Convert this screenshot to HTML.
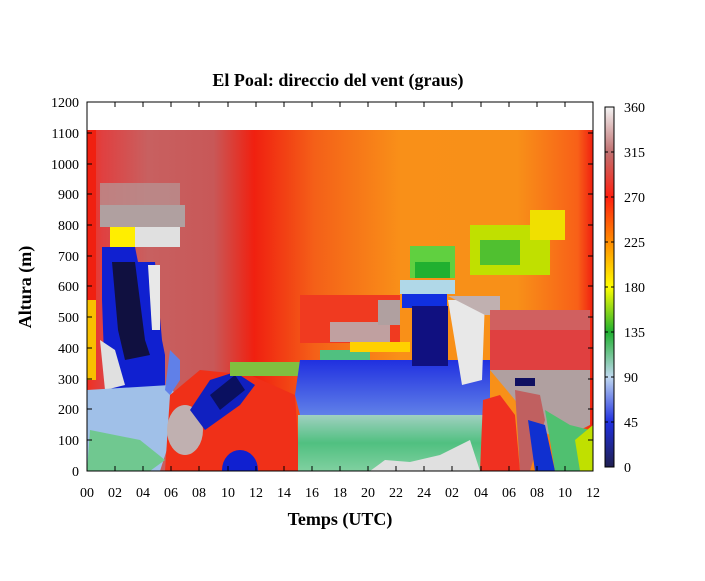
<!DOCTYPE html>
<html><head><style>
body{margin:0;background:#fff;width:705px;height:576px;overflow:hidden}
text{font-family:"Liberation Serif",serif;fill:#000}
</style></head><body>
<svg width="705" height="576" viewBox="0 0 705 576" xmlns="http://www.w3.org/2000/svg">
<defs>
<clipPath id="pc"><rect x="87" y="130" width="506" height="341"/></clipPath>
<linearGradient id="top" x1="0" x2="1" y1="0" y2="0">
<stop offset="0" stop-color="#f03020"/>
<stop offset="0.03" stop-color="#e04040"/>
<stop offset="0.12" stop-color="#c86060"/>
<stop offset="0.25" stop-color="#c85858"/>
<stop offset="0.33" stop-color="#f02010"/>
<stop offset="0.45" stop-color="#f46018"/>
<stop offset="0.62" stop-color="#f99018"/>
<stop offset="0.85" stop-color="#f89018"/>
<stop offset="0.97" stop-color="#f86018"/>
<stop offset="1" stop-color="#f02010"/>
</linearGradient>
<linearGradient id="cb" x1="0" x2="0" y1="1" y2="0">
<stop offset="0" stop-color="#202050"/>
<stop offset="0.125" stop-color="#2030e0"/>
<stop offset="0.25" stop-color="#c0d8f0"/>
<stop offset="0.375" stop-color="#20b030"/>
<stop offset="0.5" stop-color="#ffff00"/>
<stop offset="0.625" stop-color="#ff8c00"/>
<stop offset="0.75" stop-color="#ff2010"/>
<stop offset="0.875" stop-color="#c07070"/>
<stop offset="1" stop-color="#f4f4f4"/>
</linearGradient>
<linearGradient id="gr" x1="0" x2="0" y1="0" y2="1">
<stop offset="0" stop-color="#a0d0c0"/><stop offset="0.5" stop-color="#50c080"/><stop offset="1" stop-color="#80d0a0"/>
</linearGradient>
<linearGradient id="bl" x1="0" x2="0" y1="0" y2="1">
<stop offset="0" stop-color="#2030e0"/><stop offset="1" stop-color="#6080e8"/>
</linearGradient>
</defs>
<text x="338" y="86" font-size="18" font-weight="bold" text-anchor="middle">El Poal: direccio del vent (graus)</text>
<g clip-path="url(#pc)">
<rect x="87" y="130" width="506" height="341" fill="url(#top)"/>
<rect x="100" y="183" width="80" height="22" fill="#b89090" opacity="0.8"/>
<rect x="100" y="205" width="85" height="22" fill="#b0a0a0"/>
<rect x="110" y="227" width="70" height="20" fill="#e0e0e0"/>
<rect x="110" y="227" width="25" height="20" fill="#ffee00"/>
<rect x="300" y="295" width="100" height="48" fill="#f03a20"/>
<rect x="330" y="322" width="60" height="20" fill="#c0a0a0"/>
<polygon points="102,247 135,247 138,262 155,262 162,340 165,355 165,395 115,395 105,385 102,300" fill="#1020d0"/>
<polygon points="112,262 135,262 145,340 150,355 125,360 118,330" fill="#101040"/>
<polygon points="148,265 160,265 160,330 152,330" fill="#e8e8e8"/>
<polygon points="100,340 115,350 125,385 105,390" fill="#e0e0e0"/>
<polygon points="87,390 170,385 178,400 170,440 160,471 87,471" fill="#a0c0e8"/>
<polygon points="90,430 140,440 165,460 150,471 87,471" fill="#70c890"/>
<polygon points="170,350 180,360 180,380 170,395 165,390" fill="#6080e8"/>
<polygon points="170,395 200,370 250,375 295,395 300,471 165,471" fill="#f03018"/>
<ellipse cx="185" cy="430" rx="18" ry="25" fill="#c0b0b0"/>
<polygon points="190,410 210,380 235,372 255,385 240,405 205,430" fill="#1020c0"/>
<polygon points="210,395 235,375 245,390 220,410" fill="#0a1060"/>
<rect x="230" y="362" width="70" height="14" fill="#80c040"/>
<ellipse cx="240" cy="470" rx="18" ry="20" fill="#1020d0"/>
<polygon points="300,360 490,360 490,415 300,415 295,395" fill="url(#bl)"/>
<rect x="298" y="415" width="185" height="56" fill="url(#gr)"/>
<polygon points="370,471 385,460 410,462 440,455 470,440 480,471" fill="#e0e0e0"/>
<rect x="320" y="350" width="50" height="10" fill="#50c080"/>
<rect x="350" y="342" width="60" height="10" fill="#ffd000"/>
<rect x="400" y="280" width="55" height="14" fill="#b0d8e8"/>
<rect x="402" y="294" width="45" height="14" fill="#1030e0"/>
<rect x="412" y="306" width="36" height="60" fill="#101080"/>
<polygon points="448,300 485,300 482,380 462,385" fill="#e8e8e8"/>
<polygon points="448,296 500,296 500,315 485,315" fill="#c0b0b0"/>
<rect x="378" y="300" width="22" height="25" fill="#b0a0a0"/>
<rect x="410" y="246" width="45" height="32" fill="#60d040"/>
<rect x="415" y="262" width="35" height="16" fill="#20b030"/>
<rect x="470" y="225" width="80" height="50" fill="#c0e000"/>
<rect x="480" y="240" width="40" height="25" fill="#50c030"/>
<rect x="530" y="210" width="35" height="30" fill="#f0e000"/>
<rect x="490" y="310" width="100" height="50" fill="#d06060"/>
<rect x="490" y="330" width="100" height="40" fill="#e04040"/>
<polygon points="490,370 590,370 590,425 560,440 540,430" fill="#b0a0a0"/>
<polygon points="483,400 500,395 515,415 520,471 480,471" fill="#f03020"/>
<polygon points="515,390 540,395 545,420 530,471 520,471" fill="#c06060"/>
<polygon points="528,420 545,425 555,471 535,471" fill="#1030d0"/>
<polygon points="545,410 570,425 590,430 593,471 555,471" fill="#50c070"/>
<polygon points="575,440 593,425 593,471 580,471" fill="#c0e000"/>
<rect x="515" y="378" width="20" height="8" fill="#101060"/>
<rect x="87" y="130" width="9" height="250" fill="#f02010"/>
<rect x="87" y="300" width="9" height="80" fill="#f8c000"/>
</g>
<rect x="87" y="102" width="506" height="369" fill="none" stroke="#000" stroke-width="1"/>
<g stroke="#000" stroke-width="1">
<path d="M87,471h5M87,440h5M87,409h5M87,379h5M87,348h5M87,317h5M87,286h5M87,256h5M87,225h5M87,194h5M87,164h5M87,133h5M87,102h5"/>
<path d="M593,471h-5M593,440h-5M593,409h-5M593,379h-5M593,348h-5M593,317h-5M593,286h-5M593,256h-5M593,225h-5M593,194h-5M593,164h-5M593,133h-5"/>
<path d="M115,471v-5M143,471v-5M171,471v-5M199,471v-5M228,471v-5M256,471v-5M284,471v-5M312,471v-5M340,471v-5M368,471v-5M396,471v-5M424,471v-5M452,471v-5M481,471v-5M509,471v-5M537,471v-5M565,471v-5"/>
<path d="M115,102v5M143,102v5M171,102v5M199,102v5M228,102v5M256,102v5M284,102v5M312,102v5M340,102v5M368,102v5M396,102v5M424,102v5M452,102v5M481,102v5M509,102v5M537,102v5M565,102v5"/>
</g>
<g font-size="14" text-anchor="end">
<text x="79" y="476">0</text><text x="79" y="445">100</text><text x="79" y="414">200</text><text x="79" y="384">300</text><text x="79" y="353">400</text><text x="79" y="322">500</text><text x="79" y="291">600</text><text x="79" y="261">700</text><text x="79" y="230">800</text><text x="79" y="199">900</text><text x="79" y="169">1000</text><text x="79" y="138">1100</text><text x="79" y="107">1200</text>
</g>
<g font-size="14" text-anchor="middle">
<text x="87" y="497">00</text><text x="115" y="497">02</text><text x="143" y="497">04</text><text x="171" y="497">06</text><text x="199" y="497">08</text><text x="228" y="497">10</text><text x="256" y="497">12</text><text x="284" y="497">14</text><text x="312" y="497">16</text><text x="340" y="497">18</text><text x="368" y="497">20</text><text x="396" y="497">22</text><text x="424" y="497">24</text><text x="452" y="497">02</text><text x="481" y="497">04</text><text x="509" y="497">06</text><text x="537" y="497">08</text><text x="565" y="497">10</text><text x="593" y="497">12</text>
</g>
<text x="340" y="525" font-size="18" font-weight="bold" text-anchor="middle">Temps (UTC)</text>
<text transform="translate(31,287) rotate(-90)" font-size="18" font-weight="bold" text-anchor="middle">Altura (m)</text>
<rect x="605" y="107" width="9" height="360" fill="url(#cb)" stroke="#000" stroke-width="1"/>
<g stroke="#000"><path d="M605,152h3M605,197h3M605,242h3M605,287h3M605,332h3M605,377h3M605,422h3M614,152h-3M614,197h-3M614,242h-3M614,287h-3M614,332h-3M614,377h-3M614,422h-3"/></g>
<g font-size="14">
<text x="624" y="472">0</text><text x="624" y="427">45</text><text x="624" y="382">90</text><text x="624" y="337">135</text><text x="624" y="292">180</text><text x="624" y="247">225</text><text x="624" y="202">270</text><text x="624" y="157">315</text><text x="624" y="112">360</text>
</g>
</svg>
</body></html>
